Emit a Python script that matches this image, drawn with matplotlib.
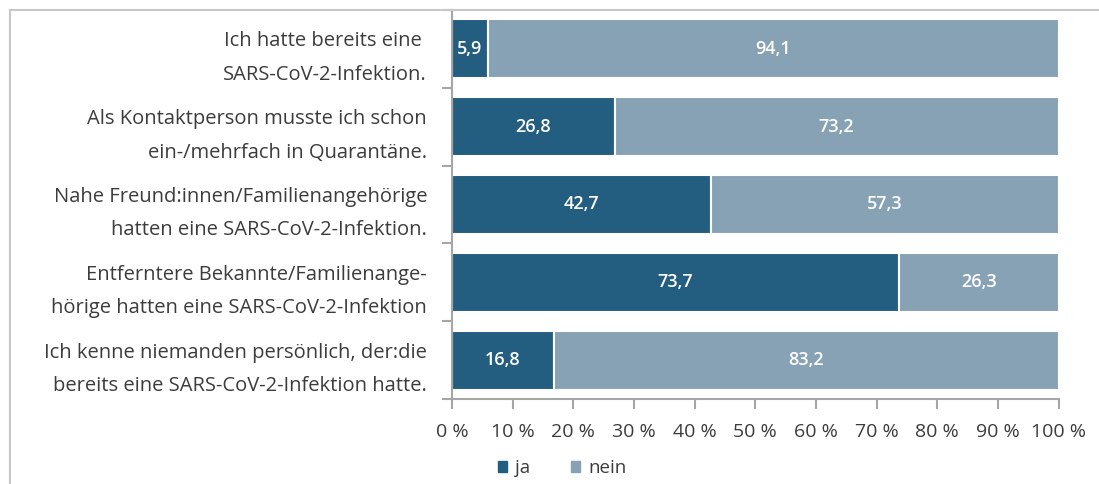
import matplotlib
matplotlib.use("Agg")
import matplotlib.pyplot as plt
from matplotlib.lines import Line2D
from matplotlib.patches import Patch
import numpy as np

plt.rcParams['font.family'] = ['Open Sans', 'DejaVu Sans']

categories = [
    "Ich hatte bereits eine \nSARS-CoV-2-Infektion.",
    "Als Kontaktperson musste ich schon\nein-/mehrfach in Quarantäne.",
    "Nahe Freund:innen/Familienangehörige\nhatten eine SARS-CoV-2-Infektion.",
    "Entferntere Bekannte/Familienange-\nhörige hatten eine SARS-CoV-2-Infektion",
    "Ich kenne niemanden persönlich, der:die\nbereits eine SARS-CoV-2-Infektion hatte.",
]
ja = [5.9, 26.8, 42.7, 73.7, 16.8]
nein = [94.1, 73.2, 57.3, 26.3, 83.2]
xticks = list(range(0, 101, 10))

c_ja = "#235d80"
c_nein = "#86a2b4"
grey = "#a6a6a6"
txt = "#3c3c3c"

fig = plt.figure(figsize=(10.99, 4.84), dpi=100)
ax = fig.add_axes([452 / 1099, 1 - 399 / 484, 606.5 / 1099, 389 / 484])

y = np.arange(len(categories))
ax.barh(y, ja, height=0.76, color=c_ja, edgecolor="white", linewidth=1.5)
ax.barh(y, nein, left=ja, height=0.76, color=c_nein, edgecolor="white", linewidth=1.5)

for i in range(len(categories)):
    ax.text(ja[i] / 2, y[i], f"{ja[i]:.1f}".replace(".", ","), ha="center", va="center",
            color="white", fontsize=13, fontweight="semibold")
    ax.text(ja[i] + nein[i] / 2, y[i], f"{nein[i]:.1f}".replace(".", ","), ha="center",
            va="center", color="white", fontsize=13, fontweight="semibold")

ax.set_xlim(0, 100)
ax.set_ylim(len(categories) - 0.5, -0.5)
ax.set_xticks(xticks)
ax.set_xticklabels([f"{v} %" for v in xticks], fontsize=14, color=txt)
ax.set_yticks(np.arange(-0.5, len(categories)), minor=False)
ax.set_yticklabels([])
ax.set_yticks(y, minor=True)
ax.set_yticklabels(categories, minor=True, fontsize=14.5, color=txt, ha="right",
                   multialignment="right", linespacing=1.9)
ax.tick_params(axis="y", which="minor", length=0, pad=18)
ax.tick_params(axis="y", which="major", length=7, color=grey, width=1.5)
ax.tick_params(axis="x", length=7, color=grey, width=1.5, pad=10)

for s in ["top", "right"]:
    ax.spines[s].set_visible(False)
for s in ["left", "bottom"]:
    ax.spines[s].set_color(grey)
    ax.spines[s].set_linewidth(1.5)

handles = [Patch(color=c_ja, label="ja"), Patch(color=c_nein, label="nein")]
fig.legend(handles=handles, loc="center", bbox_to_anchor=(562 / 1099, 1 - 468 / 484),
           ncol=2, frameon=False, fontsize=13.5, handlelength=0.5, handleheight=0.5,
           columnspacing=2.2, handletextpad=0.4, labelcolor=txt)

# outer frame
fig.add_artist(Line2D([10 / 1099, 1], [1 - 10 / 484, 1 - 10 / 484], color="#c8c8c8", lw=1.5))
fig.add_artist(Line2D([10 / 1099, 10 / 1099], [0, 1 - 10 / 484], color="#c8c8c8", lw=1.5))

fig.savefig("out.png", dpi=100)
